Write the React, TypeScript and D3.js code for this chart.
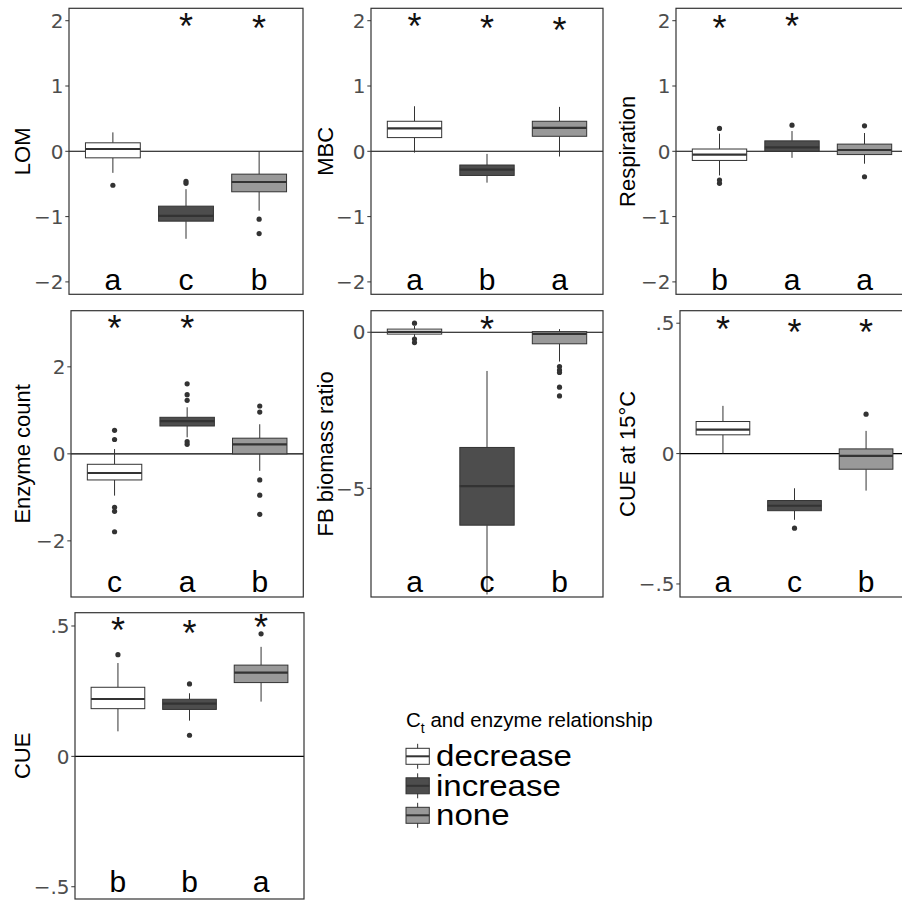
import React from "react";
import * as d3 from "d3";

const groups = ["decrease", "increase", "none"];
const groupFills = ["#FFFFFF", "#4D4D4D", "#999999"];

// box stats per group: [lower whisker, Q1, median, Q3, upper whisker]
const lomStats = [[-0.33, -0.1, 0.035, 0.13, 0.29], [-1.34, -1.07, -0.99, -0.84, -0.58], [-0.91, -0.62, -0.47, -0.35, 0.0]];
const lomOutliers = [[-0.52], [-0.46, -0.49], [-1.04, -1.26]];
const lomLetters = ["a", "c", "b"];
const lomStars = [null, 2.0, 1.97];

const mbcStats = [[-0.02, 0.21, 0.35, 0.46, 0.69], [-0.48, -0.37, -0.28, -0.21, -0.04], [-0.08, 0.23, 0.36, 0.46, 0.68]];
const mbcOutliers = [[], [], []];
const mbcLetters = ["a", "b", "a"];
const mbcStars = [2.0, 1.97, 1.93];

const respStats = [[-0.37, -0.14, -0.05, 0.035, 0.27], [-0.1, 0.0, 0.06, 0.16, 0.31], [-0.19, -0.05, 0.02, 0.11, 0.28]];
const respOutliers = [[0.35, -0.44, -0.49], [0.4], [0.39, -0.39]];
const respLetters = ["b", "a", "a"];
const respStars = [1.97, 2.0, null];

const enzStats = [[-0.96, -0.6, -0.44, -0.24, 0.11], [0.38, 0.64, 0.75, 0.84, 1.07], [-0.39, 0.0, 0.22, 0.36, 0.68]];
const enzOutliers = [[0.54, 0.33, -1.23, -1.32, -1.79], [1.61, 1.36, 1.23, 0.28, 0.22], [1.1, 0.96, -0.6, -0.95, -1.39]];
const enzLetters = ["c", "a", "b"];
const enzStars = [3.0, 3.0, null];

const fbStats = [[-0.15, -0.06, 0.01, 0.1, 0.2], [-8.4, -6.18, -4.93, -3.69, -1.24], [-0.94, -0.37, -0.05, 0.02, 0.1]];
const fbOutliers = [[0.29, -0.22, -0.33], [], [-1.1, -1.21, -1.29, -1.76, -2.04]];
const fbLetters = ["a", "c", "b"];
const fbStars = [null, 0.27, null];

const cue15Stats = [[0.0, 0.072, 0.092, 0.123, 0.183], [-0.254, -0.219, -0.2, -0.18, -0.133], [-0.142, -0.06, -0.009, 0.018, 0.087]];
const cue15Outliers = [[], [-0.286], [0.151]];
const cue15Letters = ["a", "c", "b"];
const cue15Stars = [0.497, 0.487, 0.487];

const cueStats = [[0.096, 0.183, 0.22, 0.265, 0.358], [0.137, 0.18, 0.202, 0.219, 0.242], [0.21, 0.283, 0.321, 0.35, 0.42]];
const cueOutliers = [[0.39], [0.278, 0.081], [0.47]];
const cueLetters = ["b", "b", "a"];
const cueStars = [0.505, 0.493, 0.514];

const ticksWide = [-2, -1, 0, 1, 2];
const ticksEnz = [-2, 0, 2];
const ticksFb = [-5, 0];
const ticksCue = [-0.5, 0, 0.5];

const legendTitle = "and enzyme relationship";

const fmtInt = (v: number) => (v < 0 ? "\u2212" + Math.abs(v) : String(v));
const fmtDec = (v: number) => {
  if (v === 0) return "0";
  const s = String(Math.abs(v)).replace(/^0/, "");
  return v < 0 ? "\u2212" + s : s;
};

const panels = [
  { title: "LOM", stats: lomStats, outliers: lomOutliers, letters: lomLetters, letterY: -2, stars: lomStars, domain: [-2.19, 2.19], ticks: ticksWide, fmt: fmtInt },
  { title: "MBC", stats: mbcStats, outliers: mbcOutliers, letters: mbcLetters, letterY: -2, stars: mbcStars, domain: [-2.19, 2.19], ticks: ticksWide, fmt: fmtInt },
  { title: "Respiration", stats: respStats, outliers: respOutliers, letters: respLetters, letterY: -2, stars: respStars, domain: [-2.19, 2.19], ticks: ticksWide, fmt: fmtInt },
  { title: "Enzyme count", stats: enzStats, outliers: enzOutliers, letters: enzLetters, letterY: -3, stars: enzStars, domain: [-3.29, 3.29], ticks: ticksEnz, fmt: fmtInt },
  { title: "FB biomass ratio", stats: fbStats, outliers: fbOutliers, letters: fbLetters, letterY: -8.05, stars: fbStars, domain: [-8.48, 0.69], ticks: ticksFb, fmt: fmtInt },
  { title: "CUE at 15\u00B0C", stats: cue15Stats, outliers: cue15Outliers, letters: cue15Letters, letterY: -0.5, stars: cue15Stars, domain: [-0.55, 0.548], ticks: ticksCue, fmt: fmtDec },
  { title: "CUE", stats: cueStats, outliers: cueOutliers, letters: cueLetters, letterY: -0.49, stars: cueStars, domain: [-0.547, 0.551], ticks: ticksCue, fmt: fmtDec },
];

const layout = [
  { left: 69, top: 8.3, right: 303, bottom: 294.3, titleX: 30 },
  { left: 371, top: 8.3, right: 603, bottom: 294.3, titleX: 333 },
  { left: 676, top: 8.3, right: 908, bottom: 294.3, titleX: 635 },
  { left: 71, top: 310.7, right: 303.3, bottom: 597, titleX: 29.5 },
  { left: 371, top: 310.7, right: 603, bottom: 597, titleX: 333 },
  { left: 680, top: 310.7, right: 909, bottom: 597, titleX: 635 },
  { left: 75, top: 612.7, right: 304, bottom: 899, titleX: 29.5 },
];

const FONT = "'Liberation Sans', Arial, Helvetica, sans-serif";
const FONT_WIDE = "'DejaVu Sans', 'Liberation Sans', Arial, sans-serif";
const LINE = "#333333";

function Panel({ p, l }: { p: any; l: any }) {
  const x = d3.scalePoint<string>().domain(groups).range([l.left, l.right]).padding(0.6);
  const step = x.step();
  const bw = step * 0.75;
  const y = d3.scaleLinear().domain(p.domain).range([l.bottom, l.top]);
  const cy = (l.top + l.bottom) / 2;
  return (
    <g>
      <line x1={l.left} x2={l.right} y1={y(0)} y2={y(0)} stroke="#000" strokeWidth={1.1} />
      {groups.map((g, i) => {
        const [lo, q1, med, q3, hi] = p.stats[i];
        const cx = x(g) as number;
        return (
          <g key={g}>
            <line x1={cx} x2={cx} y1={y(hi)} y2={y(q3)} stroke={LINE} strokeWidth={1} />
            <line x1={cx} x2={cx} y1={y(q1)} y2={y(lo)} stroke={LINE} strokeWidth={1} />
            <rect x={cx - bw / 2} y={y(q3)} width={bw} height={Math.max(0.5, y(q1) - y(q3))} fill={groupFills[i]} stroke={LINE} strokeWidth={1} />
            <line x1={cx - bw / 2} x2={cx + bw / 2} y1={y(med)} y2={y(med)} stroke={LINE} strokeWidth={2.2} />
            {p.outliers[i].map((o: number, k: number) => (
              <circle key={k} cx={cx} cy={y(o)} r={2.6} fill={LINE} />
            ))}
            {p.stars[i] !== null && (
              <text x={cx} y={y(p.stars[i]) + 18} textAnchor="middle" fontSize={36} fontFamily={FONT} fill="#111">*</text>
            )}
            <text x={cx} y={y(p.letterY) + 8} textAnchor="middle" fontSize={30} fontFamily={FONT} fill="#000">{p.letters[i]}</text>
          </g>
        );
      })}
      <rect x={l.left} y={l.top} width={l.right - l.left} height={l.bottom - l.top} fill="none" stroke={LINE} strokeWidth={1.2} />
      {p.ticks.map((t: number) => (
        <g key={t}>
          <line x1={l.left - 3.7} x2={l.left} y1={y(t)} y2={y(t)} stroke={LINE} strokeWidth={1} />
          <text x={l.left - 5.5} y={y(t)} dy="0.36em" textAnchor="end" fontSize={20} fontFamily={FONT_WIDE} fill="#4D4D4D">{p.fmt(t)}</text>
        </g>
      ))}
      <text transform={`translate(${l.titleX},${cy}) rotate(-90)`} textAnchor="middle" fontSize={22} fontFamily={FONT} fill="#000">{p.title}</text>
    </g>
  );
}

function Legend() {
  const keyX = 406;
  const keyW = 23.3;
  const centers = d3.scalePoint<string>().domain(groups).range([756.3, 815.3]);
  return (
    <g>
      <text x={406} y={727} fontSize={20.5} fontFamily={FONT} fill="#000">
        C<tspan fontSize={14} dy={6}>t</tspan><tspan dy={-6}> {legendTitle}</tspan>
      </text>
      {groups.map((g, i) => {
        const c = centers(g) as number;
        const mx = keyX + keyW / 2;
        return (
          <g key={g}>
            <line x1={mx} x2={mx} y1={c - 12.5} y2={c + 12.5} stroke={LINE} strokeWidth={1} />
            <rect x={keyX} y={c - 8} width={keyW} height={16} fill={groupFills[i]} stroke={LINE} strokeWidth={1} />
            <line x1={keyX} x2={keyX + keyW} y1={c} y2={c} stroke={LINE} strokeWidth={2} />
            <text transform={`translate(436,${c + 10}) scale(1.14,1)`} fontSize={29} fontFamily={FONT} fill="#000">{g}</text>
          </g>
        );
      })}
    </g>
  );
}

export default function App() {
  return (
    <svg width={902} height={902} style={{ position: "absolute", left: 0, top: 0, background: "#fff" }}>
      <rect x={0} y={0} width={902} height={902} fill="#fff" />
      {panels.map((p, i) => (
        <Panel key={p.title} p={p} l={layout[i]} />
      ))}
      <Legend />
    </svg>
  );
}
